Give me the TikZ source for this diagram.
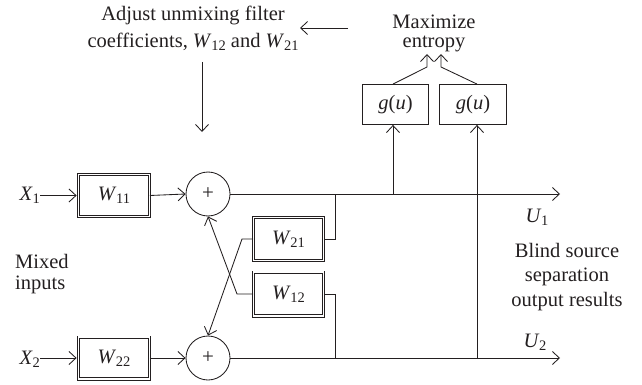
\documentclass[tikz,border=0pt]{standalone}
\usepackage{fontspec}
\setmainfont{Liberation Serif}
\usepackage{graphicx}
\usetikzlibrary{arrows.meta,calc}
\definecolor{ink}{RGB}{35,31,32}
\newcommand{\vsb}[2]{\textit{#1}\kern-0.3pt\raisebox{-3pt}{\fontsize{14.5}{14.5}\selectfont #2}}
\begin{document}
\begin{tikzpicture}[x=1pt,y=-1pt,
  every node/.style={font=\fontsize{20.5}{24}\selectfont, text=ink, inner sep=0pt},
  wire/.style={draw=ink, line width=0.85pt},
  arr/.style={wire, -{Straight Barb[length=7pt,width=13pt]}},
  dbox/.style={draw=ink, double=white, double distance=1.6pt, line width=0.8pt, minimum width=70.8pt, minimum height=41.8pt},
  gbox/.style={draw=ink, line width=0.85pt, minimum width=66pt, minimum height=40pt},
  sumnode/.style={circle, draw=ink, line width=0.85pt, minimum size=44pt, font=\fontsize{21}{21}\selectfont}
]
\useasboundingbox (0,0) rectangle (642,385);

% top texts
\node[anchor=base] (adj1) at (193,21) {Adjust unmixing filter};
\node[anchor=base] (adj2) at (193,48) {coefficients, \vsb{W}{12} and \vsb{W}{21}};
\node[anchor=base] (max1) at (434,28.5) {Maximize};
\node[anchor=base] (max2) at (434,47.5) {entropy};

\coordinate (a0) at (348,28);
\coordinate (a1) at (300,28);
\draw[arr] (a0) -- (a1);
\coordinate (d0) at (202,62);
\coordinate (d1) at (202,132);
\draw[arr] (d0) -- (d1);

% blocks
\node[dbox] (w11) at (114,195.5) {\vsb{W}{11}};
\node[dbox] (w22) at (114,358) {\vsb{W}{22}};
\node[dbox, minimum width=69.8pt, minimum height=42.8pt] (w21) at (288.5,239) {\vsb{W}{21}};
\node[dbox, minimum width=69.8pt, minimum height=43.8pt] (w12) at (288.5,294) {\vsb{W}{12}};
\node[sumnode] (c1) at (208,194) {+};
\node[sumnode] (c2) at (208,358) {+};
\node[gbox] (gl) at (395.5,104.5) {\textit{g}(\textit{u})};
\node[gbox, minimum width=67pt] (gr) at (473,104.5) {\textit{g}(\textit{u})};

% labels
\node[anchor=base east] (x1) at (40,200) {\vsb{X}{1}};
\node[anchor=base east] (x2) at (40,364) {\vsb{X}{2}};
\node[anchor=base west] (mx1) at (15,268) {Mixed};
\node[anchor=base west] (mx2) at (15,289) {inputs};
\node[anchor=base] (u1) at (537,222) {\vsb{U}{1}};
\node[anchor=base] (u2) at (535,347) {\vsb{U}{2}};
\node[anchor=base] (b1) at (567,257) {Blind source};
\node[anchor=base] (b2) at (567,281) {separation};
\node[anchor=base] (b3) at (567,306) {output results};

% input connectors
\draw[arr, shorten >=1.6pt] (x1.east |- w11.west) -- (w11.west);
\draw[arr, shorten >=1.6pt] (x2.east |- w22.west) -- (w22.west);
\draw[arr] (w11.east) -- (c1.west);
\draw[arr] (w22.east) -- (c2.west);

% outputs
\coordinate (o1) at (560,194);
\coordinate (o2) at (560,358);
\draw[arr] (c1.east) -- (o1);
\draw[arr] (c2.east) -- (o2);

% cross feedback
\coordinate (r1) at (335,194);
\coordinate (r2) at (335,358);
\draw[wire] (r1) -- (r1 |- w21.east) -- (w21.east);
\draw[wire] (r2) -- (r2 |- w12.east) -- (w12.east);
\coordinate (l1) at (242,239);
\coordinate (l2) at (237,294);
\draw[arr] (w21.west) -- (l1) -- (c2.north);
\draw[arr] (w12.west) -- (l2) -- (c1.south);

% entropy branch
\coordinate (j1) at (393,194);
\coordinate (j2) at (477,358);
\draw[arr] (j1) -- (j1 |- gl.south);
\draw[arr] (j2) -- (j2 |- gr.south);
\coordinate (k1) at (427,67);
\coordinate (k2) at (441,67);
\coordinate (t1) at (427,54);
\coordinate (t2) at (441,54);
\draw[arr] (j1 |- gl.north) -- (k1) -- (t1);
\draw[arr] (j2 |- gr.north) -- (k2) -- (t2);
\end{tikzpicture}
\end{document}
